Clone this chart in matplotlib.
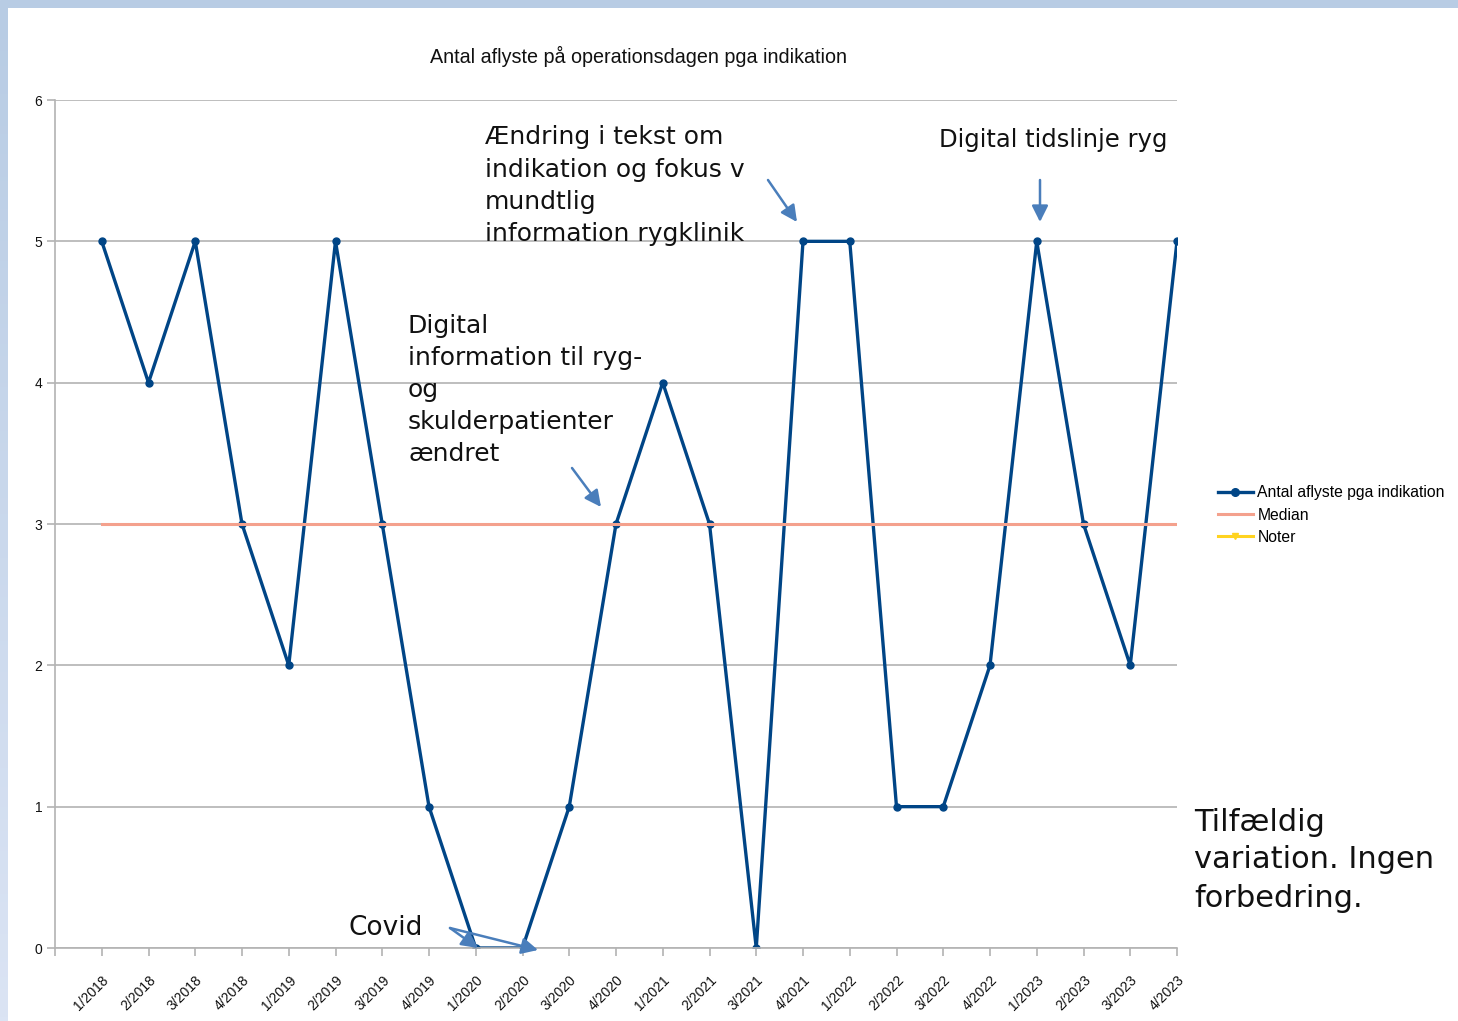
import matplotlib
matplotlib.use("Agg")
import matplotlib.pyplot as plt
import numpy as np
from matplotlib.lines import Line2D
from matplotlib.colors import LinearSegmentedColormap

W, H = 1458, 1021
DPI = 100

categories = ["1/2018", "2/2018", "3/2018", "4/2018",
              "1/2019", "2/2019", "3/2019", "4/2019",
              "1/2020", "2/2020", "3/2020", "4/2020",
              "1/2021", "2/2021", "3/2021", "4/2021",
              "1/2022", "2/2022", "3/2022", "4/2022",
              "1/2023", "2/2023", "3/2023", "4/2023"]
antal = [5, 4, 5, 3, 2, 5, 3, 1, 0, 0, 1, 3, 4, 3, 0, 5, 5, 1, 1, 2, 5, 3, 2, 5]
median = [3] * len(categories)
y_ticks = [0, 1, 2, 3, 4, 5, 6]

title = "Antal aflyste på operationsdagen pga indikation"
series_names = ["Antal aflyste pga indikation", "Median", "Noter"]

BLUE = "#004586"
SALMON = "#f4a18d"
YELLOW = "#ffd320"
GRID = "#b3b3b3"
ARROW = "#4a7ebb"

fig = plt.figure(figsize=(W / DPI, H / DPI), dpi=DPI)
fig.patch.set_facecolor("white")

# light blue frame (top strip + gradient left strip)
top_ax = fig.add_axes([0, 1 - 8 / H, 1, 8 / H])
top_ax.set_axis_off()
top_ax.add_patch(plt.Rectangle((0, 0), 1, 1, color="#b8cce4", transform=top_ax.transAxes))
left_ax = fig.add_axes([0, 0, 7 / W, 1 - 8 / H])
left_ax.set_axis_off()
grad = np.linspace(0, 1, 256).reshape(-1, 1)
cm = LinearSegmentedColormap.from_list("g", ["#dbe4f4", "#b8cce4"])
left_ax.imshow(grad, aspect="auto", cmap=cm, extent=[0, 1, 0, 1], origin="lower")

x0, x1 = 55, 1177
ytop, ybot = 100, 948
ax = fig.add_axes([x0 / W, 1 - ybot / H, (x1 - x0) / W, (ybot - ytop) / H])
x = np.arange(len(categories))

ax.plot(x, median, color=SALMON, lw=2.2, zorder=3)
ax.plot(x, antal, color=BLUE, lw=2.4, marker="o", ms=5, zorder=2)

ax.set_xlim(-1, len(categories) - 1)
ax.set_ylim(0, 6)
ax.set_yticks(y_ticks)
ax.set_yticklabels([str(v) for v in y_ticks])
ax.set_xticks(np.arange(-1, len(categories)))
ax.set_xticklabels([""] + categories, rotation=45, ha="right", va="top",
                   rotation_mode="anchor", fontsize=10, family="Liberation Sans")
for lab in ax.get_yticklabels():
    lab.set_fontsize(10)
    lab.set_family("Liberation Sans")
ax.yaxis.grid(True, color=GRID, lw=1.2)
ax.set_axisbelow(True)
for s in ["top", "right"]:
    ax.spines[s].set_visible(False)
for s in ["left", "bottom"]:
    ax.spines[s].set_color(GRID)
    ax.spines[s].set_linewidth(1.2)
ax.tick_params(axis="both", colors=GRID, length=6, width=1.2, labelcolor="#111111")
ax.tick_params(axis="x", pad=12)
ax.tick_params(axis="y", pad=3)

fig.text(638 / W, 1 - 56 / H, title, ha="center", va="center",
         fontsize=14.2, family="Liberation Sans", color="#111111")

handles = [Line2D([], [], color=BLUE, lw=2.4, marker="o", ms=5.5),
           Line2D([], [], color=SALMON, lw=2.2),
           Line2D([], [], color=YELLOW, lw=2.2, marker="v", ms=5)]
fig.legend(handles, series_names, loc="center left",
           bbox_to_anchor=(1204 / W, 1 - 515 / H), frameon=False,
           prop={"family": "Liberation Sans", "size": 11.3},
           handlelength=2.2, handletextpad=0.3, labelspacing=0.45)

AF = "DejaVu Sans"

def ftext(px, pys, lines, size):
    for py, s in zip(pys, lines):
        fig.text(px / W, 1 - py / H, s, ha="left", va="center", fontsize=size,
                 family=AF, color="#111111")

ftext(485, [137, 170, 202, 234],
      ["Ændring i tekst om", "indikation og fokus v", "mundtlig", "information rygklinik"], 18)
ftext(408, [326, 358, 390, 422, 454],
      ["Digital", "information til ryg-", "og", "skulderpatienter", "ændret"], 18)
ftext(939, [140], ["Digital tidslinje ryg"], 17.5)
ftext(348, [928], ["Covid"], 19)
ftext(1194, [822, 860, 898], ["Tilfældig", "variation. Ingen", "forbedring."], 22)

def arrow(xs, ys, xe, ye):
    fig.add_artist(matplotlib.patches.FancyArrowPatch(
        (xs / W, 1 - ys / H), (xe / W, 1 - ye / H), transform=fig.transFigure,
        arrowstyle="-|>,head_length=0.7,head_width=0.35", mutation_scale=14,
        color=ARROW, lw=1.8, shrinkA=0, shrinkB=0))

arrow(450, 928, 478, 948)
arrow(450, 928, 538, 950)
arrow(572, 468, 601, 507)
arrow(768, 180, 797, 222)
arrow(1040, 180, 1040, 222)

fig.savefig("out.png", dpi=DPI, facecolor=fig.get_facecolor())
